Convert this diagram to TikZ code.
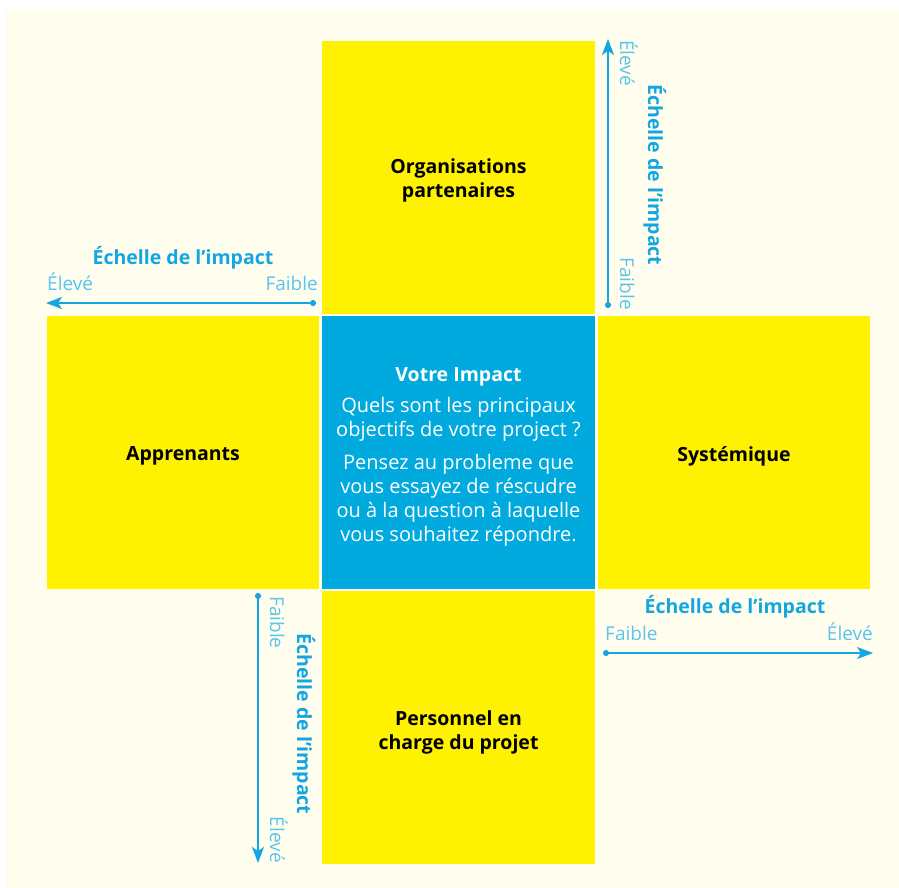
\documentclass[tikz,border=0pt]{standalone}
\usepackage{fontspec}
\setmainfont{Open Sans}
\usetikzlibrary{arrows.meta}
\definecolor{bg}{RGB}{255,253,238}
\definecolor{yel}{RGB}{255,242,0}
\definecolor{cblue}{RGB}{0,170,222}
\definecolor{ablue}{RGB}{18,166,226}
\definecolor{lblue}{RGB}{90,196,238}
\tikzset{
  quad/.style={fill=yel, minimum width=273pt, minimum height=273pt, inner sep=0pt, anchor=north west},
  quadtext/.style={align=center, inner sep=0pt, font=\fontsize{19.5}{24}\bfseries\selectfont},
  scaleline/.style={draw=ablue, line width=1.6pt, {Circle[length=6pt]}-{Stealth[length=16pt,width=12pt,inset=4pt]}},
  scaletitle/.style={text=ablue, font=\fontsize{19.5}{22}\bfseries\selectfont, inner sep=0pt},
  scalelab/.style={text=lblue, font=\fontsize{19}{22}\selectfont, inner sep=0pt}
}
\begin{document}
\begin{tikzpicture}[x=1pt,y=-1pt]
\useasboundingbox (0,0) rectangle (899,888);
\fill[white] (0,0) rectangle (899,888);
\fill[bg] (6,10) rectangle (899,888);
% boxes
\node[quad] (top) at (322,41) {};
\node[quad, minimum width=272pt] (left) at (47,316) {};
\node[quad, fill=cblue] (mid) at (322,316) {};
\node[quad, minimum width=272pt] (right) at (598,316) {};
\node[quad] (bot) at (322,591) {};
\node[quadtext] (toptext) at (458.5,180) {Organisations\\partenaires};
\node[quadtext] (lefttext) at (183,456) {Apprenants};
\node[quadtext] (righttext) at (734,456) {Systémique};
\node[quadtext] (bottext) at (458.5,732) {Personnel en\\charge du projet};
\node[text=white, align=center, inner sep=0pt, font=\fontsize{20}{24}\selectfont] (midtext) at (458.5,457)
 {\textbf{\fontsize{19.5}{24}\selectfont Votre Impact}\\[7pt]Quels sont les principaux\\objectifs de votre project ?\\[9pt]Pensez au probleme que\\vous essayez de réscudre\\ou à la question à laquelle\\vous souhaitez répondre.};
% left scale
\coordinate (l1) at (316,303);
\coordinate (l2) at (46,303);
\draw[scaleline] (l1) -- (l2);
\node[scaletitle, anchor=base] (lt) at (183,264) {Échelle de l’impact};
\node[scalelab, anchor=base west] (lh) at (47,290) {Élevé};
\node[scalelab, anchor=base east] (ll) at (318,290) {Faible};
% top-right scale
\coordinate (t1) at (608,308);
\coordinate (t2) at (608,39);
\draw[scaleline] (t1) -- (t2);
\node[scaletitle, anchor=base, rotate=-90] (tt) at (648,175) {Échelle de l’impact};
\node[scalelab, anchor=base west, rotate=-90] (th) at (620,40) {Élevé};
\node[scalelab, anchor=base east, rotate=-90] (tl) at (620,310) {Faible};
% right scale
\coordinate (r1) at (603,653);
\coordinate (r2) at (873,653);
\draw[scaleline] (r1) -- (r2);
\node[scaletitle, anchor=base] (rt) at (735,613) {Échelle de l’impact};
\node[scalelab, anchor=base west] (rl) at (605,640) {Faible};
\node[scalelab, anchor=base east] (rh) at (873,640) {Élevé};
% bottom-left scale
\coordinate (b1) at (258,593);
\coordinate (b2) at (258,863);
\draw[scaleline] (b1) -- (b2);
\node[scaletitle, anchor=base, rotate=-90] (bt) at (297,724) {Échelle de l’impact};
\node[scalelab, anchor=base west, rotate=-90] (bl) at (270,596) {Faible};
\node[scalelab, anchor=base east, rotate=-90] (bh) at (270,863) {Élevé};
\end{tikzpicture}
\end{document}
